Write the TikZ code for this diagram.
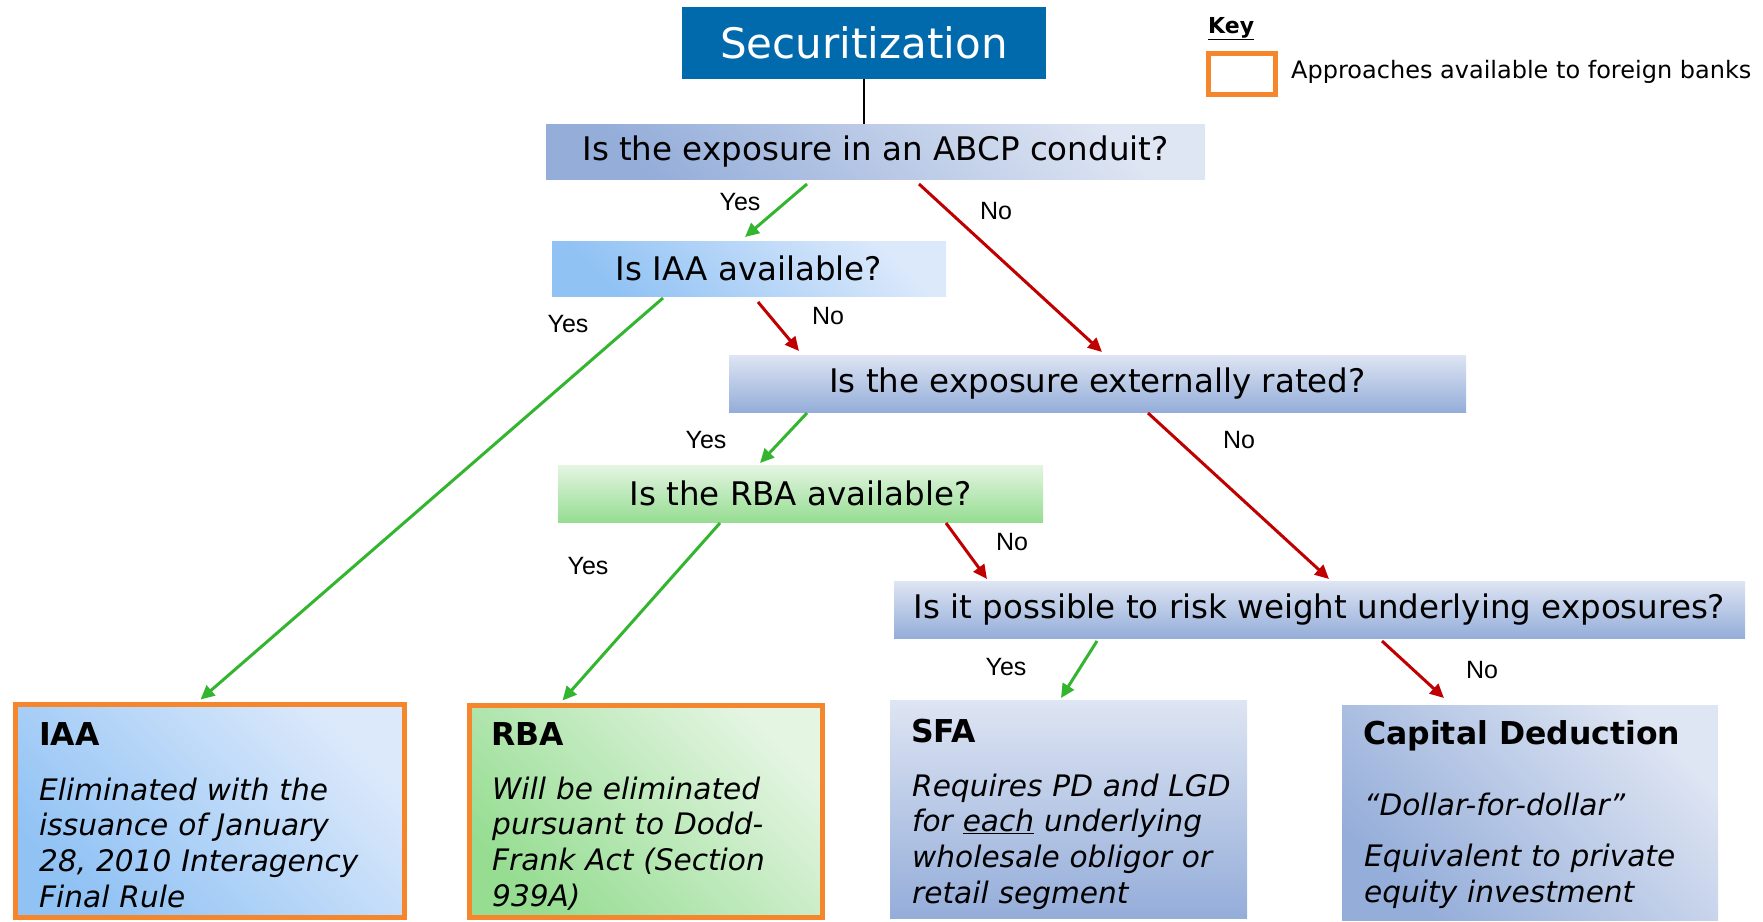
\documentclass[tikz,border=0pt]{standalone}
\usepackage{fontspec}
\setmainfont{DejaVu Sans}
\newfontfamily\labfont{Liberation Sans}
\usetikzlibrary{arrows.meta,calc}
\definecolor{secblue}{HTML}{006AAD}
\definecolor{lavlight}{HTML}{DEE5F3}
\definecolor{lavdark}{HTML}{94ADD9}
\definecolor{bluelight}{HTML}{DCE9FB}
\definecolor{bluedark}{HTML}{90C2F4}
\definecolor{greenlight}{HTML}{E4F5E2}
\definecolor{greendark}{HTML}{96DD92}
\definecolor{keyorange}{HTML}{F5862B}
\definecolor{arrgreen}{HTML}{34B52F}
\definecolor{arrred}{HTML}{C00000}
\begin{document}
\begin{tikzpicture}[x=1pt,y=-1pt,
  box/.style={anchor=north west, inner sep=0pt, outer sep=0pt},
  qfont/.style={font=\fontsize{32.5}{38}\selectfont},
  diaglav/.style={top color=lavlight, bottom color=lavdark, shading angle=-45},
  vertlav/.style={top color=lavlight, bottom color=lavdark},
  diagblue/.style={top color=bluelight, bottom color=bluedark, shading angle=-45},
  diaggreen/.style={top color=greenlight, bottom color=greendark, shading angle=-45},
  vertgreen/.style={top color=greenlight, bottom color=greendark},
  avail/.style={draw=keyorange, line width=5pt},
  yesarr/.style={draw=arrgreen, line width=3pt, -{Triangle[length=14pt,width=13pt]}},
  noarr/.style={draw=arrred, line width=3pt, -{Triangle[length=14pt,width=13pt]}},
  lab/.style={font=\labfont\fontsize{25}{30}\selectfont, inner sep=0pt},
  titlefont/.style={font=\bfseries\fontsize{31.5}{38}\selectfont, inner sep=0pt, anchor=base west},
  bodyfont/.style={font=\itshape\fontsize{29.6}{35.7}\selectfont, inner sep=0pt, anchor=base west, text width=370pt, align=left}
]
\useasboundingbox (0,0) rectangle (1763,921);

% title
\node[box, fill=secblue, minimum width=364pt, minimum height=72pt, text=white,
      font=\fontsize{42}{50}\selectfont] (sec) at (682,7) {Securitization};

% key
\node[font=\bfseries\fontsize{22}{26}\selectfont, inner sep=0pt, anchor=base west] (key) at (1208,33) {\underline{Key}};
\node[box, avail, minimum width=67pt, minimum height=41pt] (keybox) at (1208.5,53.5) {};
\node[font=\fontsize{24}{28}\selectfont, inner sep=0pt, anchor=base west] (keytext) at (1291,78) {Approaches available to foreign banks};

% questions
\node[box, qfont, diaglav, minimum width=659pt, minimum height=55pt] (abcp) at (546,124) {Is the exposure in an ABCP conduit?};
\node[box, qfont, diagblue, minimum width=394pt, minimum height=55pt] (iaaq) at (552,241) {Is IAA available?};
\node[box, qfont, vertlav, minimum width=737pt, minimum height=57pt] (ext) at (729,355) {Is the exposure externally rated?};
\node[box, qfont, vertgreen, minimum width=485pt, minimum height=57pt] (rbaq) at (558,465) {Is the RBA available?};
\node[box, qfont, vertlav, minimum width=851pt, minimum height=57pt] (risk) at (894,581) {Is it possible to risk weight underlying exposures?};

% outcome boxes
\node[box, avail, diagblue, minimum width=389pt, minimum height=213pt] (iaab) at (15.5,704.5) {};
\node[box, avail, diaggreen, minimum width=353pt, minimum height=212pt] (rbab) at (469.5,705.5) {};
\node[box, vertlav, minimum width=357pt, minimum height=218pt] (sfab) at (890,700) {};
\node[box, diaglav, minimum width=376pt, minimum height=215pt] (cdb) at (1342,705) {};

\node[titlefont] (iaat) at (39,745) {IAA};
\node[bodyfont] (iaatx) at (39,800) {Eliminated with the\\issuance of January\\28, 2010 Interagency\\Final Rule};
\node[titlefont] (rbat) at (491,745) {RBA};
\node[bodyfont] (rbatx) at (492,799) {Will be eliminated\\pursuant to Dodd-\\Frank Act (Section\\939A)};
\node[titlefont] (sfat) at (911,742) {SFA};
\node[bodyfont] (sfatx) at (912,796) {Requires PD and LGD\\for \underline{each} underlying\\wholesale obligor or\\retail segment};
\node[titlefont] (cdt) at (1363,744) {Capital Deduction};
\node[bodyfont] (cdtx) at (1364,815) {“Dollar-for-dollar”\\[16pt]Equivalent to private\\equity investment};

% connectors
\draw[line width=1.5pt] (sec.south) -- (sec.south |- abcp.north);
\draw[yesarr] ($(abcp.south west)+(261,5)$) -- ($(iaaq.north west)+(193,-4)$);
\draw[noarr]  ($(abcp.south west)+(373,5)$) -- ($(ext.north west)+(373,-3)$);
\draw[yesarr] ($(iaaq.south west)+(111,2)$) -- ($(iaab.north west)+(185,-5)$);
\draw[noarr]  ($(iaaq.south west)+(206,6)$) -- ($(ext.north west)+(70,-4)$);
\draw[yesarr] ($(ext.south west)+(78,1)$) -- ($(rbaq.north west)+(202,-2)$);
\draw[noarr]  ($(ext.south west)+(419,1)$) -- ($(risk.north west)+(435,-2)$);
\draw[yesarr] ($(rbaq.south west)+(162,1)$) -- ($(rbab.north west)+(93,-5)$);
\draw[noarr]  ($(rbaq.south west)+(388,1)$) -- ($(risk.north west)+(93,-2)$);
\draw[yesarr] ($(risk.south west)+(203,3)$) -- ($(sfab.north west)+(171,-2)$);
\draw[noarr]  ($(risk.south west)+(488,3)$) -- ($(cdb.north west)+(102,-7)$);

% labels
\node[lab] (l1) at (740,202) {Yes};
\node[lab] (l2) at (996,211) {No};
\node[lab] (l3) at (568,324) {Yes};
\node[lab] (l4) at (828,316) {No};
\node[lab] (l5) at (706,440) {Yes};
\node[lab] (l6) at (1239,440) {No};
\node[lab] (l7) at (588,566) {Yes};
\node[lab] (l8) at (1012,542) {No};
\node[lab] (l9) at (1006,667) {Yes};
\node[lab] (l10) at (1482,670) {No};
\end{tikzpicture}
\end{document}
